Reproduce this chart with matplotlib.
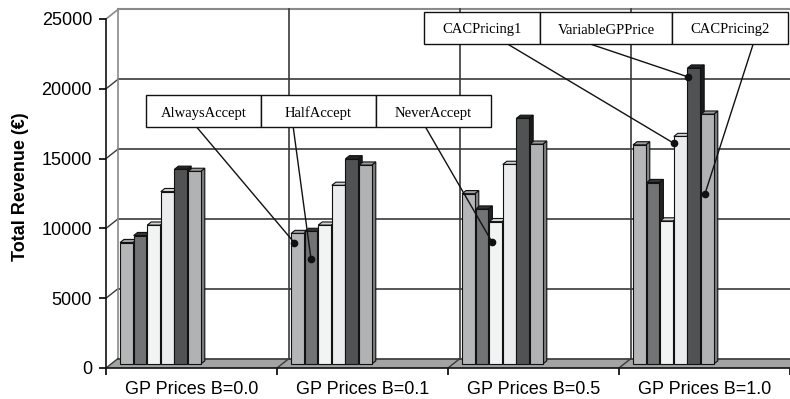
import numpy as np
import matplotlib
matplotlib.use("Agg")
import matplotlib.pyplot as plt
from matplotlib.patches import Polygon, Rectangle

plt.rcParams['font.family'] = ['Liberation Sans', 'DejaVu Sans']

# data
categories = ["GP Prices B=0.0", "GP Prices B=0.1", "GP Prices B=0.5", "GP Prices B=1.0"]
series_names = ["AlwaysAccept", "HalfAccept", "NeverAccept",
                "CACPricing1", "VariableGPPrice", "CACPricing2"]
always_accept = [8700, 9350, 12200, 15700]
half_accept = [9200, 9500, 11100, 13000]
never_accept = [9950, 9950, 10200, 10250]
cac_pricing1 = [12350, 12800, 14300, 16300]
variable_gp_price = [13950, 14700, 17600, 21200]
cac_pricing2 = [13800, 14250, 15750, 17900]
values = [always_accept, half_accept, never_accept,
          cac_pricing1, variable_gp_price, cac_pricing2]

front_cols = ['#b5b6b8', '#727375', '#f2f3f3', '#ebecee', '#515254', '#b1b2b4']
top_cols = ['#9c9d9f', '#333333', '#d2d3d4', '#cfd0d2', '#252525', '#9a9b9d']
side_cols = ['#858688', '#242424', '#c4c5c6', '#c2c3c5', '#1c1c1c', '#7c7d7f']

W, H = 790, 399
fig = plt.figure(figsize=(W / 100, H / 100), dpi=100)
ax_l, ax_r, ax_t, ax_b = 106, 790, 19, 368
ax = fig.add_axes([ax_l / W, 1 - ax_b / H, (ax_r - ax_l) / W, (ax_b - ax_t) / H])
ax.set_xlim(0, 4)
ax.set_ylim(0, 25000)

# pixel -> data conversions
px_x = 4 / (ax_r - ax_l)
px_y = 25000 / (ax_b - ax_t)
DX, DY = 12 * px_x, 9.5 * px_y          # depth of the whole chart box
BAR_PLANE = 0.42                       # depth at which bar fronts sit
BAR_DEPTH = 0.33
GROUP_OFF = 9 * px_x
BAR_W = 13.6 * px_x

grid_c = '#3a3a3a'
edge_c = '#8a8a8a'

# floor
floor = Polygon([(0, 0), (4, 0), (4 + DX, DY), (DX, DY)], closed=True,
                facecolor='#a3a3a3', edgecolor='none', clip_on=False, zorder=1)
ax.add_patch(floor)
ax.plot([DX, 4 + DX], [DY, DY], color=grid_c, lw=1.2, clip_on=False, zorder=2)

# back wall gridlines
for v in range(5000, 25000, 5000):
    ax.plot([DX, 4 + DX], [v + DY, v + DY], color=grid_c, lw=1.2, clip_on=False, zorder=1)
    ax.plot([0, DX], [v, v + DY], color=grid_c, lw=1.0, clip_on=False, zorder=1)
ax.plot([DX, 4 + DX], [25000 + DY, 25000 + DY], color=edge_c, lw=1.5, clip_on=False, zorder=1)
ax.plot([0, DX], [25000, 25000 + DY], color=edge_c, lw=1.2, clip_on=False, zorder=1)
ax.plot([DX, DX], [DY, 25000 + DY], color=edge_c, lw=1.2, clip_on=False, zorder=1)
ax.plot([0, DX], [0, DY], color=grid_c, lw=1.0, clip_on=False, zorder=2)
for k in range(1, 4):
    ax.plot([k + DX, k + DX], [DY, 25000 + DY], color=grid_c, lw=1.2, clip_on=False, zorder=1)
    ax.plot([k, k + DX], [0, DY], color=grid_c, lw=1.0, clip_on=False, zorder=2)


def bar_origin(g, i):
    x0 = g + GROUP_OFF + i * BAR_W + BAR_PLANE * DX
    y0 = BAR_PLANE * DY
    return x0, y0


# 3d bars
bdx, bdy = BAR_DEPTH * DX, BAR_DEPTH * DY
w = BAR_W * 0.94
z = 3
for g in range(len(categories)):
    for i in range(len(series_names)):
        v = values[i][g]
        x0, y0 = bar_origin(g, i)
        front = Rectangle((x0, y0), w, v, facecolor=front_cols[i],
                          edgecolor='#111111', lw=0.8, zorder=z)
        top = Polygon([(x0, y0 + v), (x0 + w, y0 + v), (x0 + w + bdx, y0 + v + bdy),
                       (x0 + bdx, y0 + v + bdy)], closed=True,
                      facecolor=top_cols[i], edgecolor='#111111', lw=0.8, zorder=z)
        side = Polygon([(x0 + w, y0), (x0 + w + bdx, y0 + bdy), (x0 + w + bdx, y0 + v + bdy),
                        (x0 + w, y0 + v)], closed=True,
                       facecolor=side_cols[i], edgecolor='#111111', lw=0.8, zorder=z)
        for p in (side, top, front):
            ax.add_patch(p)
        z += 0.01

# axes
for s in ['top', 'right']:
    ax.spines[s].set_visible(False)
for s in ['left', 'bottom']:
    ax.spines[s].set_color('#111111')
    ax.spines[s].set_linewidth(1.2)
    ax.spines[s].set_zorder(10)
ax.set_yticks(range(0, 25001, 5000))
ax.tick_params(axis='y', direction='out', length=5, width=1.2, pad=5, labelsize=13)
ax.set_xticks(range(0, 5))
ax.set_xticklabels([])
ax.set_xticks(np.arange(len(categories)) + 0.5, minor=True)
ax.set_xticklabels(categories, minor=True)
ax.tick_params(axis='x', which='major', direction='out', length=5, width=1.2)
ax.tick_params(axis='x', which='minor', length=0, pad=9, labelsize=13)

fig.text(21 / W, 1 - 187 / H, "Total Revenue (€)", rotation=90, ha='center', va='center',
         fontsize=13, fontweight='bold')

# callout boxes: (label, series, group, dot x frac, dot y frac, box left, box top, box width, leader x frac)
box_h = 32
callouts = [
    ("AlwaysAccept", 0, 1, 0.25, 0.93, 146, 95, 115, 0.44),
    ("HalfAccept", 1, 1, 0.5, 0.79, 261, 95, 115, 0.28),
    ("NeverAccept", 2, 2, 0.2, 0.86, 376, 95, 115, 0.43),
    ("CACPricing1", 3, 3, 0.0, 0.97, 424, 12, 116, 0.72),
    ("VariableGPPrice", 4, 3, 0.05, 0.97, 540, 12, 132, 0.38),
    ("CACPricing2", 5, 3, 0.3, 0.68, 672, 12, 116, 0.70),
]
for label, si, g, fx, fy, bl, bt, bw, lx in callouts:
    x0, y0 = bar_origin(g, si)
    dot = (x0 + fx * w, y0 + fy * values[si][g])
    ax.annotate("", xy=dot, xycoords='data',
                xytext=(bl + lx * bw, H - (bt + box_h)), textcoords='figure pixels',
                arrowprops=dict(arrowstyle='-', color='#111111', lw=1.0,
                                shrinkA=0, shrinkB=0), zorder=20)
    ax.plot(*dot, 'o', color='#111111', markersize=4.5, zorder=21, clip_on=False)
    fig.patches.append(Rectangle((bl / W, 1 - (bt + box_h) / H), bw / W, box_h / H,
                                 transform=fig.transFigure, facecolor='white',
                                 edgecolor='#111111', lw=1.0, zorder=30))
    fig.text((bl + bw / 2) / W, 1 - (bt + box_h / 2 + 2) / H, label, ha='center', va='center',
             fontsize=10.5, family=['Liberation Serif', 'DejaVu Serif'], zorder=31)

fig.savefig("out.png", dpi=100)
